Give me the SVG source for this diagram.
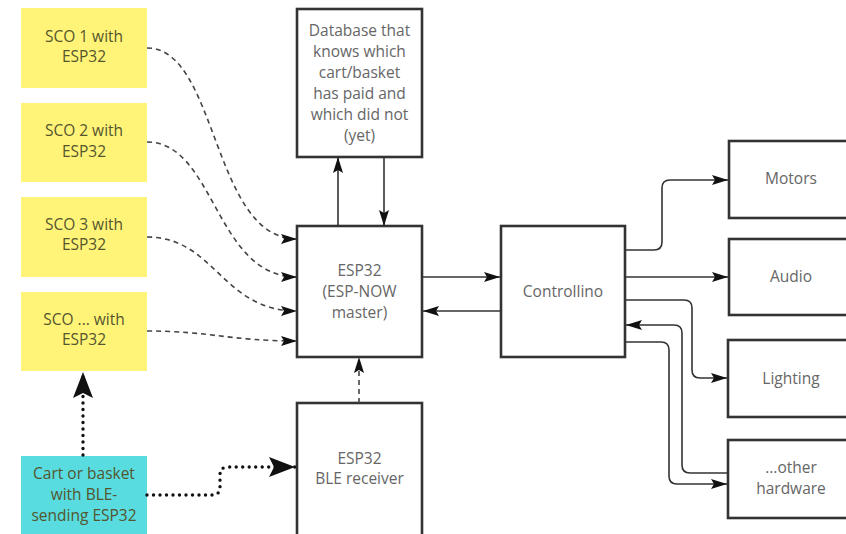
<svg xmlns="http://www.w3.org/2000/svg" width="846" height="534" viewBox="0 0 846 534">
<defs>
<style>
.box{fill:#fff;stroke:#333;stroke-width:2.6}
.sco{fill:#fff478;stroke:none}
.cart{fill:#58dce0;stroke:none}
.t{font-family:"Open Sans","Liberation Sans",sans-serif;font-size:15.5px;fill:#666;text-anchor:middle}
.ty{font-family:"Open Sans","Liberation Sans",sans-serif;font-size:15.5px;fill:#55552e;text-anchor:middle}
.solid{fill:none;stroke:#333;stroke-width:1.6}
.dash{fill:none;stroke:#444;stroke-width:1.6;stroke-dasharray:5 4}
.dot{fill:none;stroke:#111;stroke-width:3.4;stroke-dasharray:0 6.5;stroke-linecap:round}
</style>
<marker id="a" viewBox="0 0 16 10" refX="16" refY="5" markerWidth="16" markerHeight="10" markerUnits="userSpaceOnUse" orient="auto">
<path d="M0,0 L16,5 L0,10 L3,5 Z" fill="#111"/>
</marker>
<marker id="b" viewBox="0 0 26 20" refX="26" refY="10" markerWidth="26" markerHeight="20" markerUnits="userSpaceOnUse" orient="auto">
<path d="M0,0 L26,10 L0,20 L5,10 Z" fill="#111"/>
</marker>
</defs>

<g id="sco1"><rect class="sco" x="21" y="8" width="126" height="80"/><text class="ty" x="84" y="42">SCO 1 with</text><text class="ty" x="84" y="62">ESP32</text></g>
<g id="sco2"><rect class="sco" x="21" y="103" width="126" height="79"/><text class="ty" x="84" y="136">SCO 2 with</text><text class="ty" x="84" y="157">ESP32</text></g>
<g id="sco3"><rect class="sco" x="21" y="197" width="126" height="80"/><text class="ty" x="84" y="230">SCO 3 with</text><text class="ty" x="84" y="250">ESP32</text></g>
<g id="scon"><rect class="sco" x="21" y="292" width="126" height="79"/><text class="ty" x="84" y="325">SCO ... with</text><text class="ty" x="84" y="345">ESP32</text></g>
<g id="cart"><rect class="cart" x="21" y="456" width="126" height="80"/><text class="ty" x="84" y="479">Cart or basket</text><text class="ty" x="84" y="500">with BLE-</text><text class="ty" x="84" y="521">sending ESP32</text></g>

<g id="database"><rect class="box" x="297" y="9" width="125" height="148"/>
<text class="t" x="359.5" y="36">Database that</text><text class="t" x="359.5" y="57">knows which</text><text class="t" x="359.5" y="78">cart/basket</text><text class="t" x="359.5" y="99">has paid and</text><text class="t" x="359.5" y="120">which did not</text><text class="t" x="359.5" y="141">(yet)</text></g>
<g id="master"><rect class="box" x="297" y="226" width="125" height="131"/><text class="t" x="359.5" y="276">ESP32</text><text class="t" x="359.5" y="297">(ESP-NOW</text><text class="t" x="359.5" y="318">master)</text></g>
<g id="ble"><rect class="box" x="297" y="403" width="125" height="135"/><text class="t" x="359.5" y="464">ESP32</text><text class="t" x="359.5" y="484">BLE receiver</text></g>
<g id="controllino"><rect class="box" x="501" y="226" width="124" height="131"/><text class="t" x="563" y="297">Controllino</text></g>
<g id="motors"><rect class="box" x="729" y="141" width="125" height="77"/><text class="t" x="791" y="184">Motors</text></g>
<g id="audio"><rect class="box" x="729" y="239" width="125" height="76"/><text class="t" x="791" y="282">Audio</text></g>
<g id="lighting"><rect class="box" x="728" y="340" width="125" height="77"/><text class="t" x="791" y="384">Lighting</text></g>
<g id="other"><rect class="box" x="728" y="440" width="125" height="78"/><text class="t" x="791" y="473">...other</text><text class="t" x="791" y="494">hardware</text></g>

<g id="connectors">
<path class="dash" d="M147,48 C218,48 212,239 297,239" marker-end="url(#a)"/>
<path class="dash" d="M147,142 C215,142 215,277 297,277" marker-end="url(#a)"/>
<path class="dash" d="M147,237 C215,237 222,311 297,311" marker-end="url(#a)"/>
<path class="dash" d="M147,331 C210,331 230,341 297,341" marker-end="url(#a)"/>
<path class="dot" d="M83,455 L83,372" marker-end="url(#b)"/>
<path class="dot" d="M147,495 L212,495 Q220,495 220,487 L220,475 Q220,467 228,467 L295,467" marker-end="url(#b)"/>
<path class="dash" d="M359,403 L359,357" marker-end="url(#a)"/>
<path class="solid" d="M338,226 L338,157" marker-end="url(#a)"/>
<path class="solid" d="M384,157 L384,226" marker-end="url(#a)"/>
<path class="solid" d="M422,277 L500,277" marker-end="url(#a)"/>
<path class="solid" d="M501,311 L423,311" marker-end="url(#a)"/>
<path class="solid" d="M625,250 L654,250 Q662,250 662,242 L662,188 Q662,180 670,180 L728,180" marker-end="url(#a)"/>
<path class="solid" d="M625,277 L728,277" marker-end="url(#a)"/>
<path class="solid" d="M625,300 L684,300 Q692,300 692,308 L692,370 Q692,378 700,378 L727,378" marker-end="url(#a)"/>
<path class="solid" d="M728,473 L690,473 Q682,473 682,465 L682,333 Q682,325 674,325 L626,325" marker-end="url(#a)"/>
<path class="solid" d="M625,342 L661,342 Q669,342 669,350 L669,476 Q669,484 677,484 L727,484" marker-end="url(#a)"/>
</g>
</svg>
